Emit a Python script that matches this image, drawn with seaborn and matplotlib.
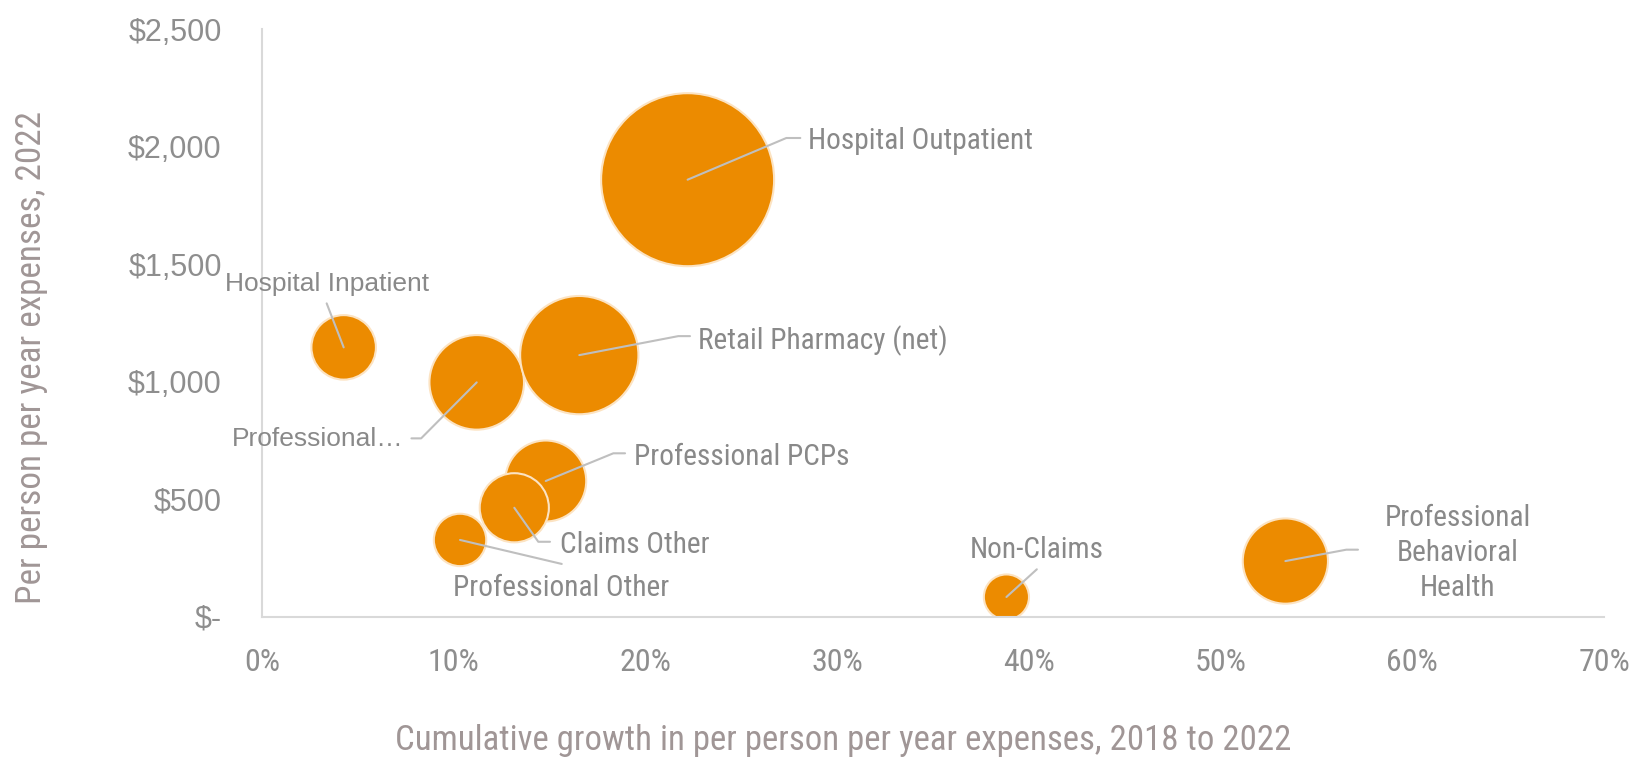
import matplotlib
matplotlib.use("Agg")
import matplotlib.pyplot as plt
from matplotlib import font_manager
from matplotlib.font_manager import FontProperties
from matplotlib.lines import Line2D
from matplotlib.transforms import IdentityTransform
import seaborn as sns
import pandas as pd

# ---- data -------------------------------------------------------------
categories = [
    "Hospital Inpatient",
    "Hospital Outpatient",
    "Professional…",
    "Professional PCPs",
    "Professional\nBehavioral\nHealth",
    "Professional Other",
    "Retail Pharmacy (net)",
    "Claims Other",
    "Non-Claims",
]
growth_pct = [4.26, 22.2, 11.2, 14.8, 53.38, 10.33, 16.55, 13.16, 38.83]
pppy_2022 = [1146, 1860, 997, 577, 236, 326, 1113, 463, 83]
pppy_increase = [47, 338, 101, 74, 82, 31, 158, 54, 23]

x_ticks = [0, 10, 20, 30, 40, 50, 60, 70]
x_tick_labels = ["0%", "10%", "20%", "30%", "40%", "50%", "60%", "70%"]
y_ticks = [0, 500, 1000, 1500, 2000, 2500]
y_tick_labels = ["$-", "$500", "$1,000", "$1,500", "$2,000", "$2,500"]

x_title = "Cumulative growth in per person per year expenses, 2018 to 2022"
y_title = "Per person per year expenses, 2022"

# ---- fonts ----------------------------------------------------------------
sns.set_theme(style="white")

ttf = font_manager.fontManager.ttflist
installed = {f.name for f in ttf}
REGULAR = "Liberation Sans" if "Liberation Sans" in installed else "DejaVu Sans"
plt.rcParams["font.family"] = [REGULAR, "DejaVu Sans"]


def pick_condensed():
    for fam in ("Liberation Sans Narrow", "Arial Narrow", "Roboto Condensed",
                "Open Sans Condensed", "Noto Sans Condensed"):
        if fam in installed:
            return fam, "normal"
    for fam in ("Noto Sans", "Open Sans", "Roboto", "Liberation Sans", "DejaVu Sans"):
        for f in ttf:
            if (f.name == fam and str(f.stretch) in ("condensed", "semi-condensed", "extra-condensed")
                    and f.style == "normal" and f.weight in (400, "normal", "regular")):
                return fam, str(f.stretch)
    return ("Roboto" if "Roboto" in installed else REGULAR), "normal"


NARROW, NARROW_STRETCH = pick_condensed()

BUBBLE = "#EC8B00"
BUBBLE_EDGE = "#FCE3C2"
LABEL_GRAY = "#898989"
TICK_GRAY = "#8e8e8e"
TITLE_GRAY = "#a09696"
SPINE_GRAY = "#d9d9d9"
LEADER_GRAY = "#bfbfbf"

DPI = 100
W, H = 1644, 760
fig = plt.figure(figsize=(W / DPI, H / DPI), dpi=DPI)
renderer = fig.canvas.get_renderer()


def size_for_width(text, family, stretch, width_px, base=20.0):
    """Font size (pt) at which `text` is `width_px` pixels wide."""
    fp = FontProperties(family=family, stretch=stretch, size=base)
    w, _, _ = renderer.get_text_width_height_descent(text, fp, ismath=False)
    return base * width_px / w


label_size = size_for_width("Hospital Outpatient", NARROW, NARROW_STRETCH, 224)
xtick_size = size_for_width("70%", NARROW, NARROW_STRETCH, 52)
title_size = size_for_width(x_title, NARROW, NARROW_STRETCH, 893)

ax_left, ax_right, ax_bottom, ax_top = 262, 1604, 616.5, 29.4
ax = fig.add_axes([ax_left / W, 1 - ax_bottom / H,
                   (ax_right - ax_left) / W, (ax_bottom - ax_top) / H])

df = pd.DataFrame({
    "category": categories,
    "growth": growth_pct,
    "pppy": pppy_2022,
    "increase": pppy_increase,
})

# bubble area proportional to the dollar increase
max_inc = max(pppy_increase)
max_diam_pt = 173 * 72 / DPI
sns.scatterplot(
    data=df, x="growth", y="pppy", size="increase",
    sizes=(0, max_diam_pt ** 2), size_norm=(0, max_inc),
    color=BUBBLE, edgecolor=BUBBLE_EDGE, linewidth=1.5,
    alpha=1, legend=False, ax=ax, zorder=2,
)

ax.set_xlim(0, 70)
ax.set_ylim(0, 2500)
ax.set_xticks(x_ticks)
ax.set_xticklabels(x_tick_labels, fontfamily=NARROW, fontstretch=NARROW_STRETCH,
                   fontsize=xtick_size, color=TICK_GRAY)
ax.set_yticks(y_ticks)
ax.set_yticklabels(y_tick_labels, fontfamily=REGULAR, fontsize=22, color=TICK_GRAY)
ax.tick_params(axis="x", length=0, pad=23)
ax.tick_params(axis="y", length=0, pad=29)

for side in ("top", "right"):
    ax.spines[side].set_visible(False)
for side in ("left", "bottom"):
    ax.spines[side].set_color(SPINE_GRAY)
    ax.spines[side].set_linewidth(1.5)
ax.grid(False)

ax.set_xlabel(x_title, fontfamily=NARROW, fontstretch=NARROW_STRETCH,
              fontsize=title_size, color=TITLE_GRAY)
ax.xaxis.label.set_va("center")
ax.xaxis.set_label_coords(0.433, -0.2104)
ax.set_ylabel(y_title, fontfamily=NARROW, fontstretch=NARROW_STRETCH,
              fontsize=title_size * 1.01, color=TITLE_GRAY)
ax.yaxis.label.set_va("center")
ax.yaxis.set_label_coords(-0.1721, 0.4403)

# ---- data labels with leader lines (offsets in pixels from bubble centre) --
label_layout = {
    "Hospital Outpatient": dict(path=[(98.7, 41.7), (112.7, 41.7)], text=(120.7, 38.5), ha="left", narrow=True),
    "Retail Pharmacy (net)": dict(path=[(99, 19), (110.7, 19)], text=(118.7, 14.0), ha="left", narrow=True),
    "Professional…": dict(path=[(-55.6, -56), (-65.3, -56)], text=(-73.3, -56.5), ha="right", narrow=False),
    "Hospital Inpatient": dict(path=[(-17, 44)], text=(-16.7, 63.5), ha="center", narrow=False),
    "Professional PCPs": dict(path=[(67.6, 27.7), (79.3, 27.7)], text=(88, 23.5), ha="left", narrow=True),
    "Professional\nBehavioral\nHealth": dict(path=[(61, 11.4), (72.6, 11.4)], text=(172.6, 8), ha="center", narrow=True),
    "Professional Other": dict(path=[(101.7, -24)], text=(101.5, -48.5), ha="center", narrow=True),
    "Claims Other": dict(path=[(24, -34), (35.7, -34)], text=(45.7, -37.5), ha="left", narrow=True),
    "Non-Claims": dict(path=[(30.4, 27.7)], text=(30.2, 47.0), ha="center", narrow=True),
}

px_to_pt = 72 / DPI
for cat, gx, py in zip(categories, growth_pct, pppy_2022):
    spec = label_layout[cat]
    cx, cy = ax.transData.transform((gx, py))
    xs = [cx] + [cx + dx for dx, _ in spec["path"]]
    ys = [cy] + [cy + dy for _, dy in spec["path"]]
    fig.add_artist(Line2D(xs, ys, transform=IdentityTransform(),
                          color=LEADER_GRAY, linewidth=1.5, zorder=5))
    if spec["narrow"]:
        font = dict(fontfamily=NARROW, fontstretch=NARROW_STRETCH, fontsize=label_size)
    else:
        font = dict(fontfamily=REGULAR, fontsize=19)
    tx, ty = spec["text"]
    ax.annotate(cat, xy=(gx, py), xycoords="data",
                xytext=(tx * px_to_pt, ty * px_to_pt), textcoords="offset points",
                ha=spec["ha"], va="center", multialignment="center",
                color=LABEL_GRAY, linespacing=1.32, zorder=6,
                annotation_clip=False, **font)

fig.savefig("out.png", dpi=DPI)
